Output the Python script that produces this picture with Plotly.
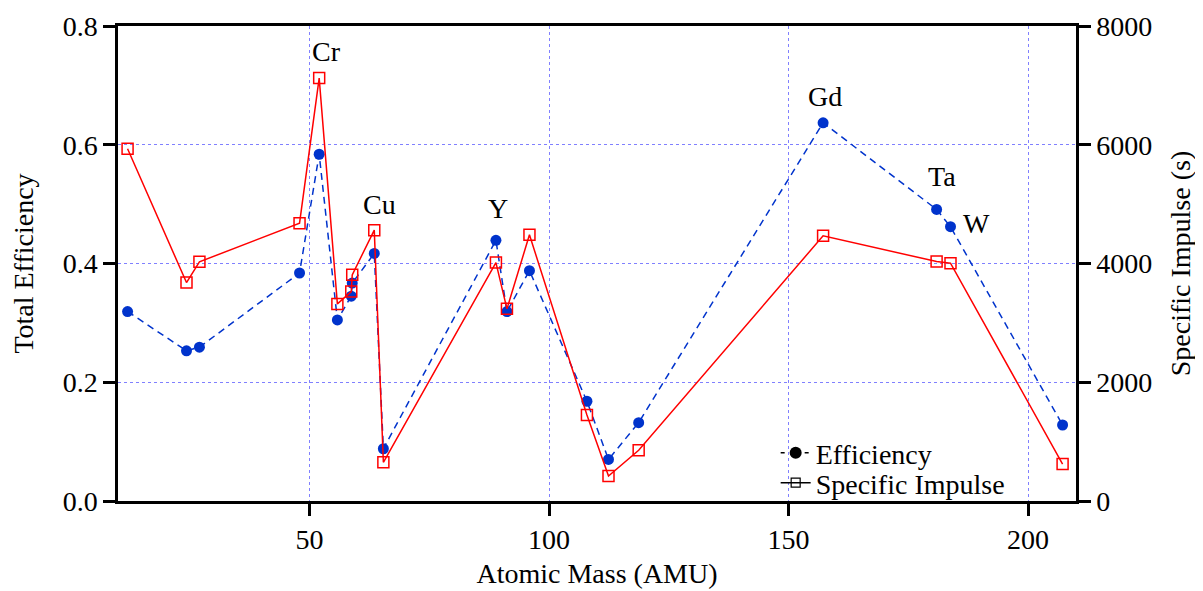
import plotly.graph_objects as go

# Data
mass = [12.0, 24.3, 27.0, 47.9, 52.0, 55.8, 58.7, 58.9, 63.5, 65.4,
        88.9, 91.2, 95.9, 107.9, 112.4, 118.7, 157.2, 180.9, 183.8, 207.2]
efficiency = [0.319, 0.253, 0.259, 0.384, 0.584, 0.305, 0.345, 0.367, 0.417, 0.088,
              0.439, 0.319, 0.388, 0.168, 0.070, 0.132, 0.637, 0.491, 0.462, 0.128]
specific_impulse = [5932, 3679, 4028, 4680, 7123, 3320, 3527, 3809, 4562, 652,
                    4016, 3236, 4483, 1449, 421, 854, 4466, 4033, 4005, 623]

label_text = ["Cr", "Cu", "Y", "Gd", "Ta", "W"]
label_x = [53.6, 64.5, 89.3, 157.6, 182.1, 189.3]
label_y = [0.757, 0.499, 0.493, 0.681, 0.546, 0.468]

x_ticks = [50, 100, 150, 200]

FONT = "Liberation Serif, 'Times New Roman', Times, serif"
BLUE = "#0033cc"
RED = "#ff0000"
GRID = "#8080ff"

fig = go.Figure()

fig.add_trace(go.Scatter(
    x=mass, y=efficiency, mode="lines+markers", showlegend=False,
    line=dict(color=BLUE, width=1.5, dash="7px,5px"),
    marker=dict(symbol="circle", size=11, color=BLUE),
))
fig.add_trace(go.Scatter(
    x=mass, y=specific_impulse, yaxis="y2", mode="lines+markers", showlegend=False,
    line=dict(color=RED, width=1.5),
    marker=dict(symbol="square-open", size=11, color=RED, line=dict(width=1.5)),
))

# legend entries (black, as in the reference), each in its own legend box
fig.add_trace(go.Scatter(
    x=[None], y=[None], mode="lines+markers", name="Efficiency", legend="legend",
    line=dict(color="black", width=1.5, dash="4px,20px"),
    marker=dict(symbol="circle", size=12, color="black"),
))
fig.add_trace(go.Scatter(
    x=[None], y=[None], mode="lines+markers", name="Specific Impulse", legend="legend2",
    line=dict(color="black", width=1.5),
    marker=dict(symbol="square-open", size=9, color="black", line=dict(width=1.2)),
))

for t, lx, ly in zip(label_text, label_x, label_y):
    fig.add_annotation(x=lx, y=ly, xref="x", yref="y", text=t, showarrow=False,
                       font=dict(family=FONT, size=28, color="black"))

axis_common = dict(
    ticks="outside", ticklen=12, tickwidth=2.5, tickcolor="black",
    showline=True, linewidth=2.5, linecolor="black", zeroline=False,
    automargin=False,
    tickfont=dict(family=FONT, size=28, color="black"),
)

legend_common = dict(xanchor="left", yanchor="middle", bgcolor="rgba(0,0,0,0)",
                     font=dict(family=FONT, size=28, color="black"), itemwidth=30)

# the page body has an 8px margin: size/margins compensate so the plot area sits
# at the same place as in the reference
fig.update_layout(
    width=1195, height=583,
    margin=dict(l=110, r=127, t=18, b=90),
    paper_bgcolor="white", plot_bgcolor="white",
    font=dict(family=FONT, size=28, color="black"),
    xaxis=dict(range=[10, 210], tickvals=x_ticks, mirror=True,
               showgrid=True, gridcolor=GRID, gridwidth=1, griddash="dot",
               title=dict(text="Atomic Mass (AMU)", font=dict(family=FONT, size=28), standoff=10),
               **axis_common),
    yaxis=dict(range=[0, 0.8], dtick=0.2, tickformat=".1f",
               showgrid=True, gridcolor=GRID, gridwidth=1, griddash="dot",
               title=dict(text="Total Efficiency", font=dict(family=FONT, size=28), standoff=21),
               **axis_common),
    yaxis2=dict(range=[0, 8000], dtick=2000, overlaying="y", side="right", showgrid=False,
                title=dict(text="Specific Impulse (s)", font=dict(family=FONT, size=28), standoff=20),
                **axis_common),
    legend=dict(x=0.6865, y=0.1010, **legend_common),
    legend2=dict(x=0.6865, y=0.0379, **legend_common),
)

fig.write_html("out.html")
